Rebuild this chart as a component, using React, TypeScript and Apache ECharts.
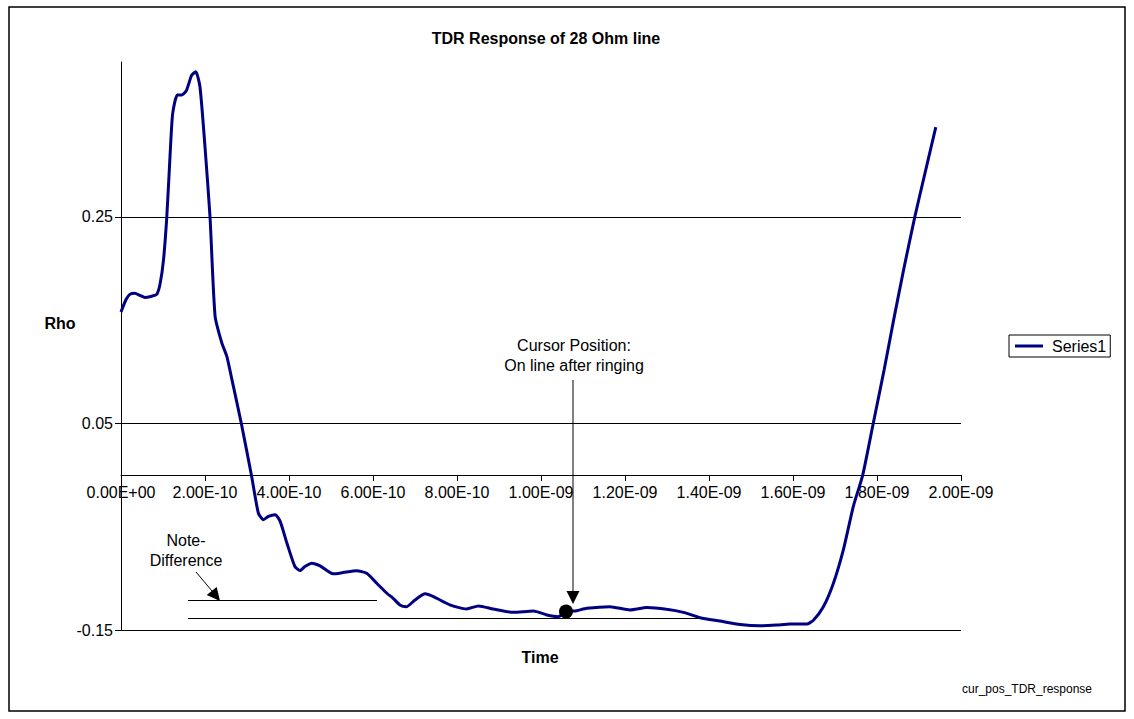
import React, { useEffect, useRef } from "react";
import * as echarts from "echarts";

// Time (s) and Rho
const timeS = [
  0, 0.12e-10, 0.21e-10, 0.33e-10, 0.45e-10, 0.57e-10, 0.71e-10, 0.85e-10, 0.93e-10, 1.01e-10,
  1.09e-10, 1.17e-10, 1.23e-10, 1.34e-10, 1.45e-10, 1.56e-10, 1.68e-10, 1.78e-10, 1.88e-10, 2.0e-10,
  2.12e-10, 2.24e-10, 2.4e-10, 2.52e-10, 2.64e-10, 2.87e-10, 3.11e-10, 3.27e-10, 3.39e-10, 3.51e-10,
  3.67e-10, 3.79e-10, 3.95e-10, 4.14e-10, 4.26e-10, 4.38e-10, 4.54e-10, 4.74e-10, 5.05e-10, 5.29e-10,
  5.61e-10, 5.85e-10, 6.09e-10, 6.33e-10, 6.48e-10, 6.64e-10, 6.8e-10, 7.0e-10, 7.24e-10, 7.44e-10,
  7.83e-10, 8.23e-10, 8.51e-10, 8.86e-10, 9.34e-10, 9.82e-10, 10.14e-10, 10.41e-10, 10.6e-10, 10.85e-10,
  11.09e-10, 11.64e-10, 12.12e-10, 12.52e-10, 12.99e-10, 13.39e-10, 13.79e-10, 14.26e-10, 14.74e-10, 15.21e-10,
  15.61e-10, 15.93e-10, 16.33e-10, 16.48e-10, 16.72e-10, 16.96e-10, 17.2e-10, 17.44e-10, 17.66e-10, 17.91e-10,
  18.17e-10, 18.4e-10, 18.64e-10, 18.9e-10, 19.14e-10, 19.4e-10,
];
const rho = [
  0.158, 0.17, 0.175, 0.176, 0.174, 0.172, 0.173, 0.175, 0.185, 0.2076,
  0.2497, 0.311, 0.35, 0.368, 0.368, 0.3726, 0.387, 0.3905, 0.376, 0.3177,
  0.2497, 0.154, 0.128, 0.115, 0.0927, 0.049, -0.0012, -0.0367, -0.0432, -0.04,
  -0.0383, -0.0448, -0.0658, -0.0885, -0.0924, -0.0885, -0.0853, -0.0879, -0.0956, -0.0944,
  -0.0927, -0.095, -0.1047, -0.1144, -0.1193, -0.1257, -0.1274, -0.1209, -0.115, -0.1177,
  -0.1257, -0.1296, -0.1267, -0.1296, -0.1329, -0.1316, -0.1354, -0.1371, -0.1325, -0.1313,
  -0.129, -0.1274, -0.1306, -0.1283, -0.1299, -0.1329, -0.1381, -0.1413, -0.1446, -0.1459,
  -0.1452, -0.1442, -0.1442, -0.1408, -0.1278, -0.105, -0.0722, -0.0298, 0.0, 0.05,
  0.102, 0.151, 0.2, 0.25, 0.292, 0.337,
];
const rhoTicks = [-0.15, 0.05, 0.25];
const rhoMin = -0.15;
const rhoMax = 0.4;
const cursorPoint = [1.0595e-9, -0.1322];
const seriesName = "Series1";

const FONT = "'Liberation Sans', Arial, sans-serif";

const GRID_TOP = 62;
const GRID_BOTTOM = 89;
const CHART_H = 719;

function fmtExp(v: number): string {
  const [m, e] = v.toExponential(2).split("e");
  const n = parseInt(e, 10);
  return m + "E" + (n < 0 ? "-" : "+") + String(Math.abs(n)).padStart(2, "0");
}

export default function App() {
  const ref = useRef<HTMLDivElement>(null);
  useEffect(() => {
    if (!ref.current) return;
    const chart = echarts.init(ref.current, undefined, { renderer: "svg" });
    const data = timeS.map((t, i) => [t, rho[i]]);
    // place the x axis where Rho = 0 crosses the plot
    const plotH = CHART_H - GRID_TOP - GRID_BOTTOM;
    const zeroFromBottom = ((0 - rhoMin) / (rhoMax - rhoMin)) * plotH;
    const txt = (x: number, y: number, text: string, size = 16, bold = false) => ({
      type: "text",
      x,
      y,
      silent: true,
      style: {
        text,
        fill: "#000",
        font: `${bold ? "bold " : ""}${size}px ${FONT}`,
        textAlign: "center",
        textVerticalAlign: "middle",
      },
    });
    const ln = (x1: number, y1: number, x2: number, y2: number, w = 1) => ({
      type: "line",
      silent: true,
      shape: { x1, y1, x2, y2 },
      style: { stroke: "#000", lineWidth: w },
    });
    chart.setOption({
      animation: false,
      backgroundColor: "#fff",
      textStyle: { fontFamily: FONT },
      grid: { left: 121, top: GRID_TOP, right: 173, bottom: GRID_BOTTOM, containLabel: false },
      legend: {
        left: 1009,
        top: 335,
        orient: "vertical",
        borderColor: "#000",
        borderWidth: 1,
        padding: [3, 4, 3, 6],
        icon: "rect",
        itemWidth: 28,
        itemHeight: 3,
        textStyle: { fontSize: 16, color: "#000", fontFamily: FONT, padding: [0, 0, 0, 4] },
        data: [seriesName],
      },
      xAxis: {
        type: "value",
        min: 0,
        max: 2e-9,
        interval: 2e-10,
        position: "bottom",
        offset: -Math.round(zeroFromBottom),
        axisLine: { show: true, onZero: false, lineStyle: { color: "#000", width: 1 } },
        axisTick: { show: true, length: 6, lineStyle: { color: "#000" } },
        splitLine: { show: false },
        axisLabel: {
          fontSize: 16,
          color: "#000",
          fontFamily: FONT,
          margin: 9,
          formatter: (v: number) => fmtExp(v),
        },
      },
      yAxis: {
        type: "value",
        min: rhoMin,
        max: rhoMax,
        axisLine: { show: true, lineStyle: { color: "#000", width: 1 } },
        axisTick: { show: true, length: 6, customValues: rhoTicks, lineStyle: { color: "#000" } },
        axisLabel: {
          customValues: rhoTicks,
          fontSize: 16,
          color: "#000",
          fontFamily: FONT,
          margin: 8,
          formatter: (v: number) => String(Math.round(v * 100) / 100),
        },
        splitLine: { show: true, lineStyle: { color: "#000", width: 1 } },
      },
      series: [
        {
          name: seriesName,
          type: "line",
          data,
          smooth: 0.2,
          showSymbol: false,
          symbol: "none",
          lineStyle: { color: "#000080", width: 3 },
          itemStyle: { color: "#000080" },
          markPoint: {
            silent: true,
            symbol: "circle",
            symbolSize: 14,
            itemStyle: { color: "#000" },
            label: { show: false },
            data: [{ coord: cursorPoint }],
          },
        },
      ],
      graphic: [
        {
          type: "rect",
          silent: true,
          shape: { x: 9, y: 7, width: 1116, height: 704 },
          style: { fill: "none", stroke: "#000", lineWidth: 1.5 },
        },
        txt(546, 38, "TDR Response of 28 Ohm line", 16, true),
        txt(60, 323, "Rho", 16, true),
        txt(540, 657, "Time", 16, true),
        txt(574, 345, "Cursor Position:"),
        txt(574, 365, "On line after ringing"),
        txt(186, 540, "Note-"),
        txt(186, 560, "Difference"),
        txt(1027, 689, "cur_pos_TDR_response", 12),
        ln(573, 380, 573, 592),
        {
          type: "polygon",
          silent: true,
          shape: { points: [[566.5, 591], [579.5, 591], [573, 604]] },
          style: { fill: "#000" },
        },
        ln(196, 572, 212, 591),
        {
          type: "polygon",
          silent: true,
          shape: { points: [[206.7, 595.1], [216.7, 586.9], [220, 601]] },
          style: { fill: "#000" },
        },
        ln(188, 600.5, 377, 600.5),
        ln(188, 618.5, 703, 618.5),
      ],
    });
    return () => chart.dispose();
  }, []);
  return (
    <div
      ref={ref}
      style={{ position: "absolute", left: 0, top: 0, width: 1134, height: 719 }}
    />
  );
}
